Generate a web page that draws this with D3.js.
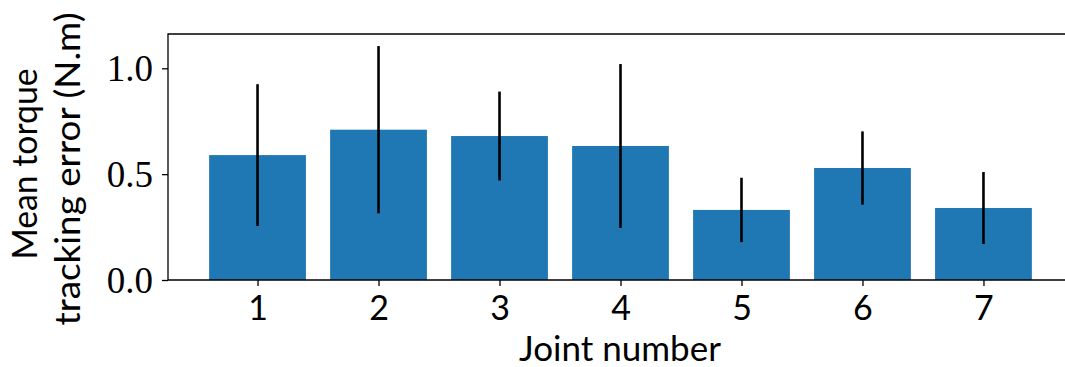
<!DOCTYPE html>
<html>
<head>
<meta charset="utf-8">
<style>
html, body { margin: 0; padding: 0; background: #fff; }
svg { display: block; }
</style>
</head>
<body>
<svg width="1065" height="367"></svg>
<script src="https://d3js.org/d3.v7.min.js"></script>
<script>
// joint numbers, mean error and std (error bar half-length)
var joints = [1, 2, 3, 4, 5, 6, 7];
var meanErr = [0.59, 0.71, 0.68, 0.633, 0.331, 0.529, 0.340];
var stdErr = [0.335, 0.395, 0.21, 0.387, 0.152, 0.173, 0.17];
var yTicks = [0.0, 0.5, 1.0];

var svg = d3.select("svg"),
    axL = 168, axR = 1073, axT = 34, axB = 280,
    sans = "Lato, 'Open Sans', sans-serif",
    serif = "'Liberation Serif', 'DejaVu Serif', serif";

var x = d3.scaleLinear().domain([0.26, 7.74]).range([axL, axR]);
var y = d3.scaleLinear().domain([0, 1.162]).range([axB, axT]);
var barW = x(0.8) - x(0);

svg.selectAll("rect.bar")
    .data(joints)
  .enter().append("rect")
    .attr("class", "bar")
    .attr("x", function(d) { return x(d) - barW / 2; })
    .attr("y", function(d, i) { return y(meanErr[i]); })
    .attr("width", barW)
    .attr("height", function(d, i) { return y(0) - y(meanErr[i]); })
    .attr("fill", "#1f77b4");

svg.selectAll("line.err")
    .data(joints)
  .enter().append("line")
    .attr("class", "err")
    .attr("x1", function(d) { return x(d); })
    .attr("x2", function(d) { return x(d); })
    .attr("y1", function(d, i) { return y(meanErr[i] + stdErr[i]); })
    .attr("y2", function(d, i) { return y(meanErr[i] - stdErr[i]); })
    .attr("stroke", "#000")
    .attr("stroke-width", 2.6);

// axes
var xAxis = svg.append("g")
    .attr("transform", "translate(0," + axB + ")")
    .call(d3.axisBottom(x).tickValues(joints).tickFormat(d3.format("d")).tickSize(6).tickPadding(10));
xAxis.select(".domain").remove();
xAxis.selectAll("text")
    .attr("font-family", sans)
    .attr("font-size", 34)
    .attr("fill", "#000");

var yAxis = svg.append("g")
    .attr("transform", "translate(" + axL + ",0)")
    .call(d3.axisLeft(y).tickValues(yTicks).tickFormat(d3.format(".1f")).tickSize(6).tickPadding(9));
yAxis.select(".domain").remove();
yAxis.selectAll("text")
    .attr("font-family", serif)
    .attr("font-size", 37)
    .attr("dy", "0.33em")
    .attr("fill", "#000");

svg.selectAll(".tick line").attr("stroke", "#000").attr("stroke-width", 1.3);

// spines
svg.append("path")
    .attr("d", "M" + axL + "," + axT + "V" + axB + "H" + axR + "V" + axT + "Z")
    .attr("fill", "none")
    .attr("stroke", "#000")
    .attr("stroke-width", 1.3);

// labels
svg.append("text")
    .attr("x", 620)
    .attr("y", 361)
    .attr("text-anchor", "middle")
    .attr("font-family", sans)
    .attr("font-size", 35)
    .text("Joint number");

var yl = svg.append("text")
    .attr("transform", "translate(0,166) rotate(-90)")
    .attr("text-anchor", "middle")
    .attr("font-family", sans)
    .attr("font-size", 35);
yl.append("tspan").attr("x", 2).attr("y", 37)
    .attr("textLength", 191).attr("lengthAdjust", "spacingAndGlyphs")
    .text("Mean torque");
yl.append("tspan").attr("x", -3).attr("y", 80)
    .attr("textLength", 313).attr("lengthAdjust", "spacingAndGlyphs")
    .text("tracking error (N.m)");
</script>
</body>
</html>
